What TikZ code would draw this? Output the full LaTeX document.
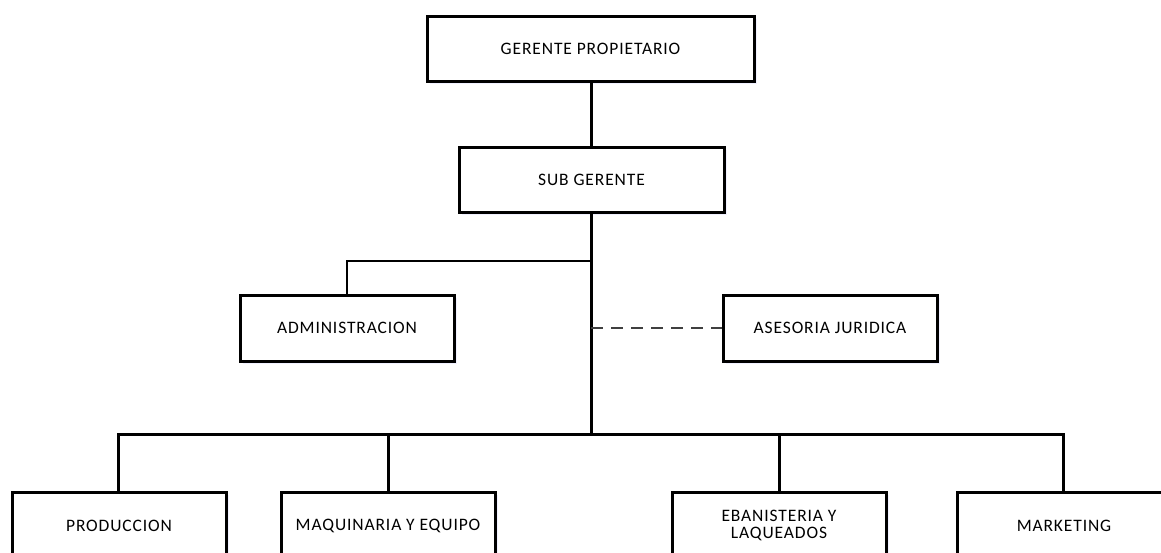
\documentclass[tikz,border=0pt]{standalone}
\usepackage{fontspec}
\setmainfont{Carlito}[LetterSpace=5]
\usetikzlibrary{positioning}
\tikzset{
  unit/.style={draw=black, line width=3pt, fill=white, inner sep=0pt,
    font=\fontsize{17.5}{20}\selectfont, align=center},
  shade/.style={fill=blue!6, draw=none},
  link/.style={line width=3pt},
  thinlink/.style={line width=1.6pt},
  advice/.style={line width=2pt, draw=black!75, dash pattern=on 12pt off 8pt},
}
% draws a soft shadow and then the box itself
\newcommand{\orgbox}[5]{%
  \fill[shade] (#1+3,#2+3) rectangle (#3+3,#4+3);
  \node[unit, minimum width=#3-#1, minimum height=#4-#2] (#5) at ({(#1+#3)/2},{(#2+#4)/2})}
\begin{document}
\begin{tikzpicture}[x=1pt,y=-1pt]
  \clip (0,0) rectangle (1161,552);
  \fill[white] (0,0) rectangle (1161,552);

  \orgbox{427}{16}{754}{81}{gp} {GERENTE PROPIETARIO};
  \orgbox{459}{147}{724}{212}{sg} {SUB GERENTE};
  \orgbox{240}{295}{454}{361}{adm} {ADMINISTRACION};
  \orgbox{723}{295}{937}{361}{ase} {ASESORIA JURIDICA};
  \orgbox{12}{492}{226}{559}{prod} {PRODUCCION};
  \orgbox{281}{492}{495}{559}{maq} {MAQUINARIA Y EQUIPO};
  \orgbox{672}{492}{886}{559}{eban} {EBANISTERIA Y\\[-3pt]LAQUEADOS};
  \orgbox{957}{492}{1171}{559}{mkt} {MARKETING};

  % junction points on the main vertical line
  \coordinate (jadm) at (591,261);
  \coordinate (jase) at (591,328);
  \coordinate (bus) at (591,434);

  \draw[link] (gp.south -| 591,0) -- (sg.south -| 591,0);
  \draw[link] (sg.south -| 591,0) -- (bus);
  \draw[thinlink] (jadm) -| (adm.north -| 347,0);
  \draw[advice] (jase) -- (ase.west);
  \draw[link] (bus) -| (prod.north -| 118,0);
  \draw[link] (bus) -| (mkt.north -| 1063,0);
  \draw[link] (maq.north -| 388,0) -- (388,434);
  \draw[link] (eban.north -| 779,0) -- (779,434);

  % redraw boxes over connector ends
  \node[unit, minimum width=327, minimum height=65] at (gp) {GERENTE PROPIETARIO};
  \node[unit, minimum width=265, minimum height=65] at (sg) {SUB GERENTE};
\end{tikzpicture}
\end{document}
